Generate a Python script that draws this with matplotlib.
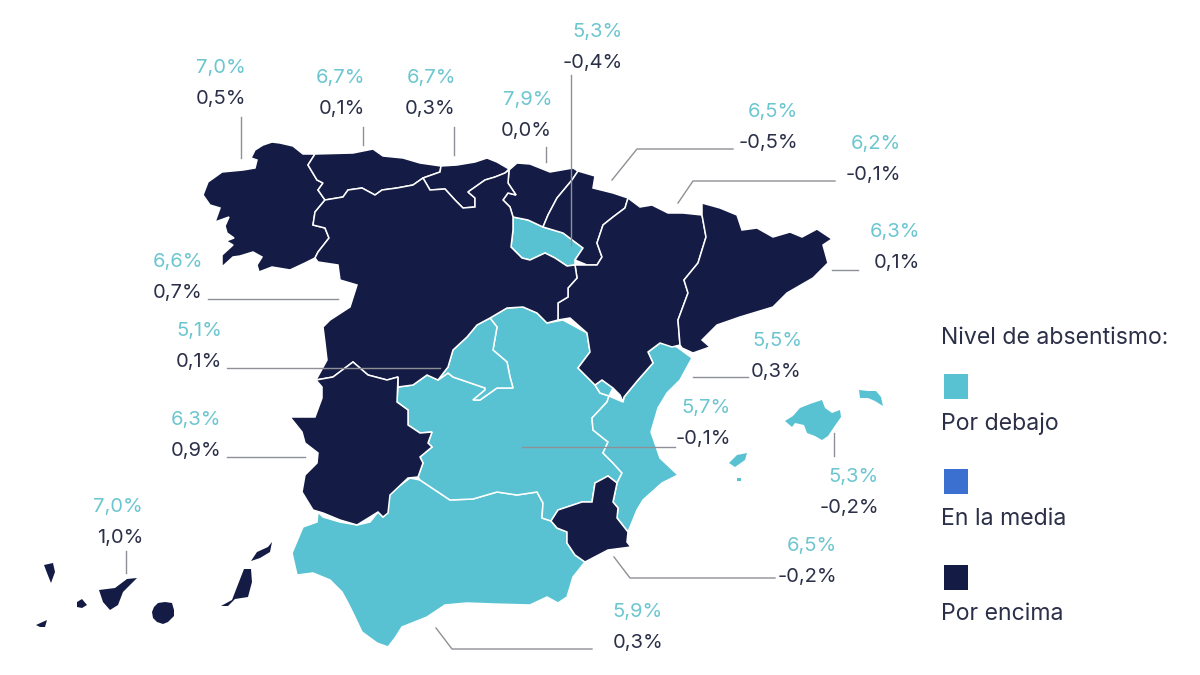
import matplotlib

matplotlib.use("Agg")
import matplotlib.pyplot as plt
from matplotlib.patches import Polygon, Rectangle

plt.rcParams["font.family"] = ["Inter", "DejaVu Sans"]

TEAL = "#58C2D2"
NAVY = "#141C45"
BLUE = "#3B70D0"
TEXT = "#2B3048"
TEAL_TEXT = "#6CC6D0"
LINE = "#8E9096"

# region outlines (pixel coords)
galicia = [(251,158),(255,150),(263,145),(272,142),(280,143),(293,146),(303,154),(315,154),(308,165),(317,180),(323,183),(318,190),(325,200),(315,212),(313,225),(325,228),(329,238),(318,252),(315,258),(305,263),(290,270),(272,267),(259,272),(257,265),(262,257),(253,252),(240,256),(233,257),(222,267),(222,255),(233,245),(226,241),(234,238),(227,233),(225,226),(229,217),(215,222),(220,208),(210,205),(203,195),(208,182),(222,172),(243,170),(255,168),(257,160)]
asturias = [(315,154),(353,153),(373,149),(383,156),(403,158),(420,163),(441,166),(440,172),(423,178),(413,185),(397,188),(382,190),(375,195),(362,188),(348,190),(343,197),(325,200),(318,190),(323,183),(317,180),(308,165)]
cantabria = [(441,166),(457,165),(475,162),(487,158),(497,162),(509,169),(505,173),(495,177),(485,180),(468,192),(475,198),(475,207),(463,208),(455,200),(445,189),(430,190),(423,178),(440,172)]
pais_vasco = [(509,170),(517,163),(530,164),(550,172),(573,168),(578,171),(572,180),(557,198),(548,215),(543,227),(528,220),(513,217),(510,207),(503,200),(508,193),(516,195),(508,183)]
navarra = [(578,171),(595,176),(593,188),(613,193),(628,198),(625,208),(613,217),(603,225),(597,243),(602,257),(597,265),(587,265),(575,260),(583,248),(563,233),(543,227),(548,215),(557,198),(572,180)]
rioja = [(513,217),(528,220),(543,227),(563,233),(583,248),(575,260),(575,265),(567,266),(555,258),(545,253),(530,260),(522,258),(511,247),(513,230)]
aragon = [(628,198),(640,207),(652,205),(668,213),(683,213),(702,215),(706,237),(698,263),(684,280),(688,293),(678,320),(680,345),(672,347),(660,343),(648,352),(653,363),(638,380),(624,397),(623,402),(620,395),(613,388),(602,380),(595,385),(578,368),(590,352),(587,333),(570,318),(558,320),(558,303),(568,297),(568,288),(577,278),(575,265),(587,265),(597,265),(602,257),(597,243),(603,225),(613,217),(625,208)]
cataluna = [(702,203),(720,208),(737,215),(742,230),(757,228),(773,237),(790,232),(802,237),(817,229),(832,239),(823,245),(828,263),(813,278),(787,293),(773,307),(740,317),(717,325),(702,340),(710,347),(693,353),(682,348),(680,345),(678,320),(688,293),(684,280),(698,263),(706,237),(702,215)]
valencia = [(648,352),(660,343),(677,347),(692,358),(680,380),(667,393),(658,408),(651,432),(660,458),(678,475),(662,483),(643,500),(637,510),(628,532),(617,518),(618,508),(613,502),(617,483),(622,473),(613,463),(603,453),(608,442),(593,430),(592,418),(607,402),(609,396),(623,402),(624,397),(638,380),(653,363)]
ademuz = [(595,385),(602,380),(613,388),(609,396),(600,393)]
murcia = [(551,521),(558,510),(582,502),(592,502),(595,483),(608,476),(617,483),(613,502),(618,508),(617,518),(628,532),(627,542),(631,547),(608,550),(585,562),(575,555),(567,543),(567,532),(557,528)]
andalucia = [(318,512),(323,517),(340,522),(357,525),(370,522),(378,512),(383,517),(388,512),(387,495),(410,478),(420,480),(450,500),(473,499),(497,492),(517,495),(537,492),(543,503),(542,518),(551,521),(557,528),(567,532),(567,543),(575,555),(585,562),(573,577),(567,597),(558,603),(547,597),(530,605),(493,604),(467,603),(445,605),(427,617),(402,627),(395,638),(388,647),(377,643),(362,632),(353,613),(348,603),(342,592),(330,580),(313,573),(297,575),(292,553),(303,527),(317,522)]
extremadura = [(316,380),(333,377),(353,362),(368,375),(387,380),(398,377),(397,402),(408,410),(408,425),(420,433),(432,432),(428,443),(432,447),(420,457),(423,463),(418,477),(408,478),(390,495),(388,513),(383,517),(378,512),(370,517),(357,525),(340,520),(323,513),(313,510),(302,492),(305,475),(317,463),(318,453),(305,443),(302,432),(290,417),(315,417),(322,398),(322,387)]
castilla_mancha = [(398,387),(413,385),(427,375),(438,380),(448,373),(453,377),(485,388),(485,390),(473,400),(480,400),(497,388),(513,388),(510,377),(507,362),(493,350),(497,327),(490,318),(507,308),(523,307),(537,313),(547,323),(563,320),(587,333),(590,352),(578,368),(595,385),(600,393),(609,396),(607,402),(592,418),(593,430),(608,442),(603,453),(613,463),(622,473),(617,483),(608,476),(595,483),(592,502),(582,502),(558,510),(551,521),(542,518),(543,503),(537,492),(517,495),(497,492),(473,499),(450,500),(420,480),(418,477),(423,463),(420,457),(432,447),(428,443),(432,432),(420,433),(408,425),(408,410),(397,402)]
madrid = [(490,318),(497,327),(493,350),(507,362),(510,377),(513,388),(497,388),(480,400),(473,400),(485,390),(485,388),(453,377),(448,373),(438,380),(448,367),(453,350),(467,337),(477,325)]
castilla_leon = [(325,200),(343,197),(348,190),(362,188),(375,195),(382,190),(397,188),(413,185),(423,178),(430,190),(445,189),(455,200),(463,208),(475,207),(475,198),(468,192),(485,180),(495,177),(505,173),(509,170),(508,183),(516,195),(508,193),(503,200),(510,207),(513,217),(513,230),(511,247),(522,258),(530,260),(545,253),(555,258),(567,266),(575,265),(577,278),(568,288),(568,297),(558,303),(558,320),(547,323),(537,313),(523,307),(507,308),(490,318),(477,325),(467,337),(453,350),(448,367),(438,380),(427,375),(413,385),(398,387),(398,377),(387,380),(368,375),(353,362),(333,377),(316,380),(327,360),(325,343),(323,327),(330,320),(350,307),(357,285),(340,280),(338,265),(318,262),(315,258),(318,252),(329,238),(325,228),(313,225),(315,212)]
mallorca = [(785,421),(793,416),(800,408),(810,404),(822,400),(825,408),(832,413),(840,410),(841,417),(834,427),(828,436),(822,440),(815,436),(807,433),(804,425),(795,423),(792,427)]
menorca = [(859,390),(868,391),(876,391),(881,397),(883,406),(875,401),(868,398),(860,398)]
ibiza = [(729,463),(737,455),(747,453),(745,460),(735,467)]
formentera = [(737,478),(741,478),(741,481),(737,481)]
la_palma = [(44,565),(53,563),(55,572),(51,583),(47,573)]
gomera = [(77,602),(82,599),(87,605),(82,608),(77,607)]
hierro = [(36,625),(47,620),(45,627),(40,627)]
tenerife = [(99,590),(115,588),(127,579),(137,578),(123,592),(118,605),(110,610),(103,602)]
gran_canaria = [(158,603),(165,602),(172,603),(174,610),(174,616),(168,622),(163,624),(157,622),(153,618),(152,612),(154,607)]
fuerteventura = [(244,569),(251,569),(252,582),(248,597),(235,599),(228,606),(221,606),(232,600),(237,587)]
lanzarote = [(251,561),(257,552),(268,547),(272,542),(270,552),(260,558)]

below_regions = [andalucia, castilla_mancha, madrid, valencia, ademuz, rioja]
above_regions = [galicia, asturias, cantabria, pais_vasco, navarra, aragon, cataluna, castilla_leon, extremadura, murcia]
below_islands = [mallorca, menorca, ibiza, formentera]
above_islands = [la_palma, gomera, hierro, tenerife, gran_canaria, fuerteventura, lanzarote]

# absenteeism level and yearly change per label
levels = ["7,0%", "6,7%", "6,7%", "7,9%", "5,3%", "6,5%", "6,2%", "6,3%", "6,6%", "5,1%", "6,3%", "7,0%", "5,5%", "5,7%", "5,3%", "6,5%", "5,9%"]
changes = ["0,5%", "0,1%", "0,3%", "0,0%", "-0,4%", "-0,5%", "-0,1%", "0,1%", "0,7%", "0,1%", "0,9%", "1,0%", "0,3%", "-0,1%", "-0,2%", "-0,2%", "0,3%"]

label_right = [246, 365, 456, 552, 623, 798, 901, 920, 203, 222, 221, 143, 802, 731, 879, 837, 663]
label_top = [68, 78, 78, 100, 32, 112, 144, 232, 262, 331, 420, 507, 341, 408, 477, 546, 612]

leaders = [
    [(241,117),(241,158)],
    [(363,127),(363,145)],
    [(454,127),(454,155)],
    [(546,147),(546,162)],
    [(571,75),(571,245)],
    [(733,149),(637,149),(612,180)],
    [(835,181),(693,181),(678,203)],
    [(858,270),(832,270)],
    [(208,299),(338,299)],
    [(227,368),(440,368)],
    [(227,457),(305,457)],
    [(126,551),(126,573)],
    [(748,377),(693,377)],
    [(675,447),(522,447)],
    [(834,433),(834,456)],
    [(775,578),(630,578),(614,557)],
    [(592,649),(452,649),(436,628)],
]

legend_names = ["Por debajo", "En la media", "Por encima"]
legend_colors = [TEAL, BLUE, NAVY]
legend_swatch_top = [374, 469, 565]
legend_text_y = [424, 519, 614]

fig, ax = plt.subplots(figsize=(12, 6.75), dpi=100)
ax.set_position([0, 0, 1, 1])
ax.set_xlim(0, 1200)
ax.set_ylim(675, 0)
ax.axis("off")

for shape in below_regions:
    ax.add_patch(Polygon(shape, closed=True, facecolor=TEAL, edgecolor="white", linewidth=1.1, zorder=2))
for shape in above_regions:
    ax.add_patch(Polygon(shape, closed=True, facecolor=NAVY, edgecolor="white", linewidth=1.1, zorder=2))
for shape in below_islands:
    ax.add_patch(Polygon(shape, closed=True, facecolor=TEAL, edgecolor="none", zorder=2))
for shape in above_islands:
    ax.add_patch(Polygon(shape, closed=True, facecolor=NAVY, edgecolor="none", zorder=2))

for pts in leaders:
    xs = [p[0] for p in pts]
    ys = [p[1] for p in pts]
    ax.plot(xs, ys, color=LINE, lw=1.0, zorder=3)

for level, change, x, y in zip(levels, changes, label_right, label_top):
    ax.text(x, y, level, color=TEAL_TEXT, fontsize=14.5, ha="right", va="center")
    ax.text(x, y + 31, change, color=TEXT, fontsize=14.5, ha="right", va="center")

ax.text(941, 338, "Nivel de absentismo:", color=TEXT, fontsize=16.6, ha="left", va="center")
for name, color, top, y in zip(legend_names, legend_colors, legend_swatch_top, legend_text_y):
    ax.add_patch(Rectangle((944, top), 24, 25, facecolor=color, edgecolor="none"))
    ax.text(941, y, name, color=TEXT, fontsize=16.6, ha="left", va="center")

fig.savefig("out.png", dpi=100)
plt.close(fig)
